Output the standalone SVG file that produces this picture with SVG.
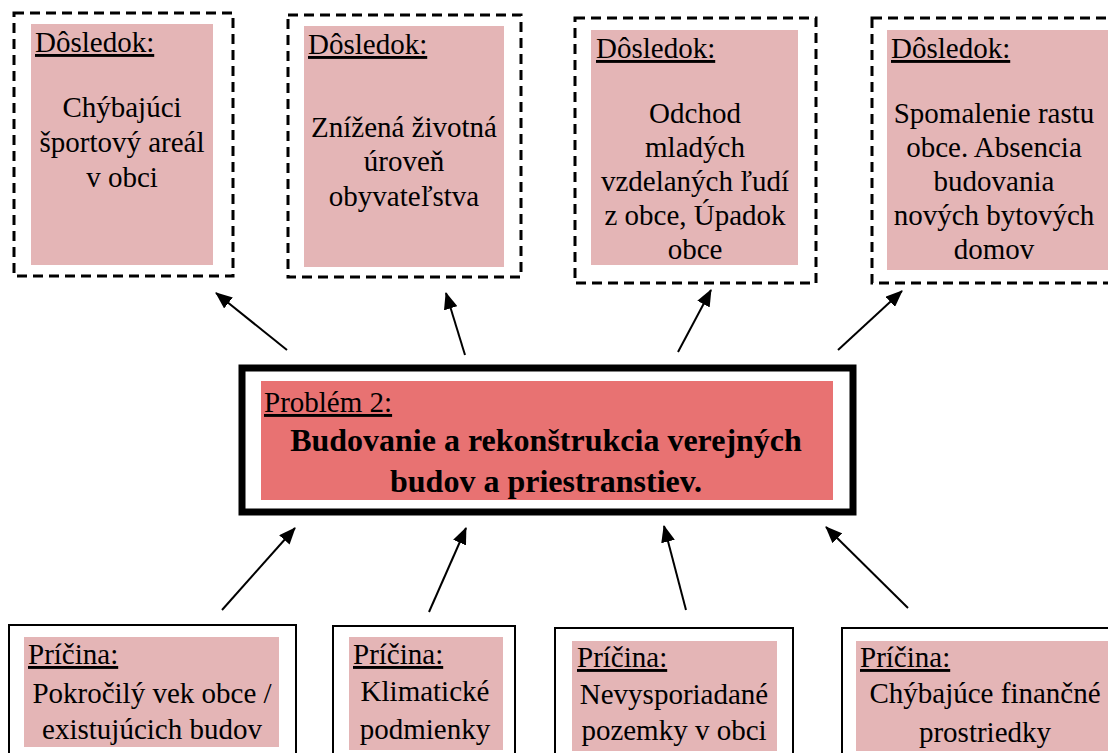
<svg xmlns="http://www.w3.org/2000/svg" width="1108" height="753" viewBox="0 0 1108 753" font-family="'Liberation Serif', 'Times New Roman', Times, serif">
<style>
text{font-family:'Liberation Serif','Times New Roman',Times,serif;font-size:29px;fill:#000}
.c{text-anchor:middle}
.u{text-decoration:underline}
.b{font-weight:bold;font-size:32px}
.dash{fill:#fff;stroke:#000;stroke-width:3;stroke-dasharray:10 6}
.solid{fill:#fff;stroke:#000;stroke-width:2}
.pink{fill:#E4B5B6}
.red{fill:#E87272}
.conn line{stroke:#000;stroke-width:2}
</style>
<defs>
<marker id="ah" viewBox="0 0 17 14" refX="16" refY="7" markerWidth="17" markerHeight="14" markerUnits="userSpaceOnUse" orient="auto">
<path d="M0,0 L17,7 L0,14 z" fill="#000"/>
</marker>
</defs>
<rect width="1108" height="753" fill="#fff"/>
<g id="d1">
<rect class="dash" x="14" y="13" width="219" height="263"/>
<rect class="pink" x="31" y="24" width="182" height="241"/>
<text class="u" x="35" y="52">Dôsledok:</text>
<text class="c" x="122" y="117">Chýbajúci</text>
<text class="c" x="122" y="152">športový areál</text>
<text class="c" x="122" y="187">v obci</text>
</g>
<g id="d2">
<rect class="dash" x="288" y="15" width="233" height="262"/>
<rect class="pink" x="304" y="26" width="200" height="241"/>
<text class="u" x="308" y="54">Dôsledok:</text>
<text class="c" x="404" y="137">Znížená životná</text>
<text class="c" x="404" y="171">úroveň</text>
<text class="c" x="404" y="206">obyvateľstva</text>
</g>
<g id="d3">
<rect class="dash" x="575" y="18" width="241" height="265"/>
<rect class="pink" x="591" y="30" width="207" height="235"/>
<text class="u" x="596" y="58">Dôsledok:</text>
<text class="c" x="695" y="123">Odchod</text>
<text class="c" x="695" y="157">mladých</text>
<text class="c" x="695" y="191">vzdelaných ľudí</text>
<text class="c" x="695" y="225">z obce, Úpadok</text>
<text class="c" x="695" y="259">obce</text>
</g>
<g id="d4">
<rect class="dash" x="872" y="18" width="260" height="265"/>
<rect class="pink" x="887" y="30" width="240" height="240"/>
<text class="u" x="891" y="58">Dôsledok:</text>
<text class="c" x="994" y="123">Spomalenie rastu</text>
<text class="c" x="994" y="157">obce. Absencia</text>
<text class="c" x="994" y="191">budovania</text>
<text class="c" x="994" y="225">nových bytových</text>
<text class="c" x="994" y="259">domov</text>
</g>
<g id="problem">
<rect x="242" y="368" width="611" height="144" fill="#fff" stroke="#000" stroke-width="7"/>
<rect class="red" x="261" y="381" width="572" height="119"/>
<text class="u" x="264" y="412">Problém 2:</text>
<text class="c b" x="546" y="451">Budovanie a rekonštrukcia verejných</text>
<text class="c b" x="546" y="492">budov a priestranstiev.</text>
</g>
<g id="p1">
<rect class="solid" x="9" y="625" width="287" height="140"/>
<rect class="pink" x="24" y="637" width="255" height="110"/>
<text class="u" x="28" y="664">Príčina:</text>
<text class="c" x="152" y="703">Pokročilý vek obce /</text>
<text class="c" x="152" y="739">existujúcich budov</text>
</g>
<g id="p2">
<rect class="solid" x="333" y="626" width="182" height="140"/>
<rect class="pink" x="349" y="637" width="154" height="113"/>
<text class="u" x="353" y="664">Príčina:</text>
<text class="c" x="425" y="701">Klimatické</text>
<text class="c" x="425" y="739">podmienky</text>
</g>
<g id="p3">
<rect class="solid" x="555" y="628" width="238" height="140"/>
<rect class="pink" x="572" y="641" width="205" height="110"/>
<text class="u" x="577" y="667">Príčina:</text>
<text class="c" x="674" y="704">Nevysporiadané</text>
<text class="c" x="674" y="740">pozemky v obci</text>
</g>
<g id="p4">
<rect class="solid" x="842" y="628" width="290" height="140"/>
<rect class="pink" x="856" y="641" width="270" height="110"/>
<text class="u" x="860" y="667">Príčina:</text>
<text class="c" x="985" y="703">Chýbajúce finančné</text>
<text class="c" x="985" y="742">prostriedky</text>
</g>
<g id="connectors" class="conn">
<line x1="287" y1="350" x2="216" y2="293" marker-end="url(#ah)"/>
<line x1="465" y1="355" x2="446" y2="293" marker-end="url(#ah)"/>
<line x1="678" y1="352" x2="711" y2="290" marker-end="url(#ah)"/>
<line x1="838" y1="350" x2="902" y2="291" marker-end="url(#ah)"/>
<line x1="222" y1="610" x2="295" y2="528" marker-end="url(#ah)"/>
<line x1="429" y1="612" x2="466" y2="528" marker-end="url(#ah)"/>
<line x1="686" y1="610" x2="664" y2="526" marker-end="url(#ah)"/>
<line x1="908" y1="608" x2="826" y2="527" marker-end="url(#ah)"/>
</g>
</svg>
